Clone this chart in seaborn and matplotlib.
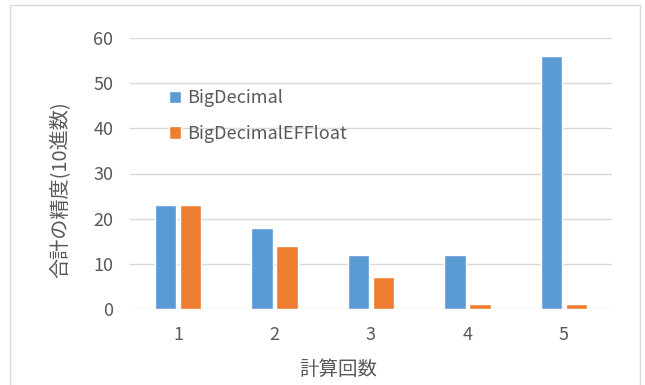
import matplotlib
matplotlib.use("Agg")
import matplotlib.pyplot as plt
import seaborn as sns
import pandas as pd
from matplotlib.patches import Rectangle

# Data
rounds = ["1", "2", "3", "4", "5"]
big_decimal = [23, 18, 12, 12, 56]
big_decimal_ef_float = [23, 14, 7, 1, 1]
series_names = ["BigDecimal", "BigDecimalEFFloat"]
y_ticks = [0, 10, 20, 30, 40, 50, 60]

df = pd.DataFrame({
    "round": rounds * 2,
    "value": big_decimal + big_decimal_ef_float,
    "series": [series_names[0]] * len(rounds) + [series_names[1]] * len(rounds),
})

sns.set_theme(style="white")
plt.rcParams["font.family"] = ["Noto Sans CJK JP", "DejaVu Sans"]

text_gray = "#595959"
grid_gray = "#D9D9D9"

fig = plt.figure(figsize=(6.45, 3.85), dpi=100)
ax = fig.add_axes([130 / 645, 1 - 309 / 385, 482 / 645, 271 / 385])

# Outer chart frame
fig.patches.append(Rectangle((10 / 645, -0.01), 630 / 645, 1 - 5 / 385 + 0.01,
                             transform=fig.transFigure, fill=False,
                             edgecolor=grid_gray, linewidth=1.0, zorder=0))

sns.barplot(data=df, x="round", y="value", hue="series", hue_order=series_names,
            palette=["#5B9BD5", "#ED7D31"], width=0.52, gap=0.15,
            saturation=1, ax=ax, zorder=3)

ax.set_xlim(-0.5, 4.5)
ax.set_ylim(0, 60)
ax.set_yticks(y_ticks)
ax.yaxis.grid(True, color=grid_gray, linewidth=1.0, zorder=0)
ax.set_axisbelow(True)
for s in ax.spines.values():
    s.set_visible(False)

ax.tick_params(axis="both", length=0, labelsize=13, labelcolor=text_gray)
ax.tick_params(axis="x", pad=12)
ax.tick_params(axis="y", pad=12)

ax.set_xlabel("")
ax.set_ylabel("")
fig.text(338 / 645, 1 - 369 / 385, "計算回数", fontsize=14, color=text_gray,
         ha="center", va="center")
fig.text(60 / 645, 1 - 190 / 385, "合計の精度(10進数)", fontsize=14.5,
         color=text_gray, rotation=90, ha="center", va="center")

handles, labels = ax.get_legend_handles_labels()
ax.legend(handles, labels, loc="upper left", bbox_to_anchor=(0.08, 0.81),
          frameon=False, fontsize=13, labelcolor=text_gray,
          handlelength=0.7, handleheight=0.7, handletextpad=0.35,
          labelspacing=0.95, borderpad=0, borderaxespad=0)

fig.savefig("out.png", dpi=100)
